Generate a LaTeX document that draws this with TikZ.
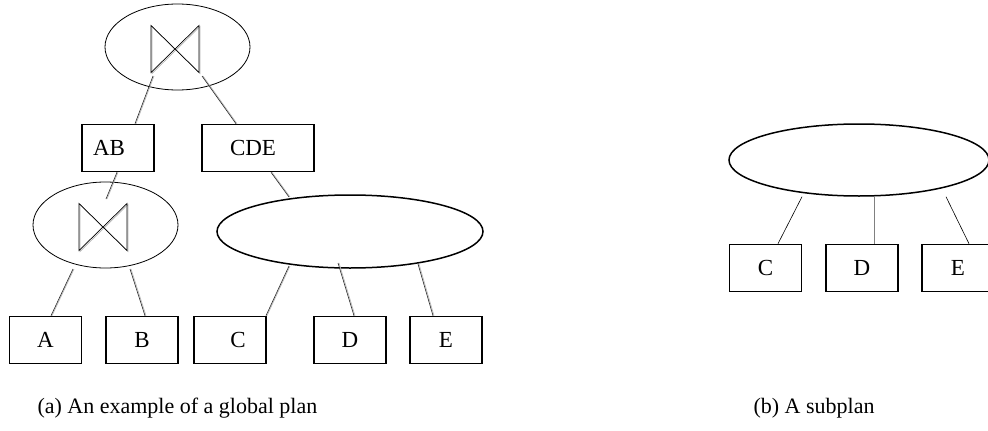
\documentclass[tikz,border=0pt]{standalone}
\usepackage{fontspec}
\setmainfont{Liberation Serif}
\usetikzlibrary{shapes.geometric}

\tikzset{
  rel/.style={draw, line width=1.6pt, minimum width=72pt, minimum height=47pt,
    inner sep=0pt, font=\fontsize{23}{25}\selectfont},
  joinop/.style={ellipse, draw, line width=0.8pt, minimum width=145pt,
    minimum height=86pt, inner sep=0pt},
  subop/.style={ellipse, draw, line width=1.5pt, inner sep=0pt},
  link/.style={draw=black!85, line width=0.6pt,
    preaction={draw=gray!55, line width=0.7pt, transform canvas={xshift=1pt}}},
  caption/.style={font=\fontsize{22}{24}\selectfont, anchor=west},
  joinmark/.pic={
    \draw[gray!60, line width=0.7pt, shift={(1,1)}] (-24,-23.5) -- (24,23.5) -- (24,-23.5) -- (-24,23.5) -- cycle;
    \draw[line width=0.7pt] (-24,-23.5) -- (24,23.5) -- (24,-23.5) -- (-24,23.5) -- cycle;
  }
}

\begin{document}
\begin{tikzpicture}[x=1pt, y=-1pt]
    \useasboundingbox (0,0) rectangle (988,431);

    % global plan: joins
    \node[joinop] (j1) at (177.5,47) {};
    \pic at ([shift={(-2.5,2)}]j1.center) {joinmark};
    \node[joinop] (j2) at (105.5,225) {};
    \pic at ([shift={(-2.5,2)}]j2.center) {joinmark};

    % intermediate results
    \node[rel] (AB) at (118,148) {AB\rule{18pt}{0pt}};
    \node[rel, minimum width=112pt] (CDE) at (258,148) {CDE\rule{10pt}{0pt}};

    % subplan inside the global plan
    \node[subop, minimum width=266pt, minimum height=73pt] (s1) at (350,231.5) {};

    % base relations
    \node[rel] (A) at (45.5,340) {A};
    \node[rel] (B) at (142,340) {B};
    \node[rel] (C) at (230,340) {\rule{16pt}{0pt}C};
    \node[rel] (D) at (350,340) {D};
    \node[rel] (E) at (446,340) {\raisebox{-2pt}{E}};

    % edges of the global plan
    \draw[link] ([shift={(-24.5,29)}]j1.center) -- ([xshift=17pt]AB.north);
    \draw[link] ([shift={(24.5,29)}]j1.center) -- ([xshift=-22pt]CDE.north);
    \draw[link] ([xshift=-1pt]AB.south) -- ([shift={(0.5,-26)}]j2.center);
    \draw[link] ([xshift=13pt]CDE.south) -- ([shift={(-61,-34.5)}]s1.center);
    \draw[link] ([shift={(-32.5,44)}]j2.center) -- ([xshift=5.5pt]A.north);
    \draw[link] ([shift={(24.5,44)}]j2.center) -- ([xshift=3pt]B.north);
    \draw[link] ([shift={(-61,34.5)}]s1.center) -- ([xshift=36pt]C.north);
    \draw[link] ([shift={(-12,31.5)}]s1.center) -- ([xshift=4pt]D.north);
    \draw[link] ([shift={(68,32.5)}]s1.center) -- ([xshift=-13pt]E.north);

    % the subplan on its own
    \node[subop, minimum width=260pt, minimum height=72pt] (s2) at (859,160) {};
    \node[rel] (C2) at (765.5,268) {C};
    \node[rel] (D2) at (862,268) {D};
    \node[rel] (E2) at (958,268) {E};
    \draw[line width=0.6pt] ([xshift=-57pt]s2.south) -- ([xshift=12.5pt]C2.north);
    \draw[gray, line width=1pt] ([xshift=15pt]s2.south) -- ([xshift=12pt]D2.north);
    \draw[line width=0.6pt] ([xshift=87pt]s2.south) -- ([xshift=11pt]E2.north);

    % captions
    \node[caption] (capa) at (34,408) {(a) An example of a global plan};
    \node[caption] (capb) at (750,408) {(b) A subplan};
\end{tikzpicture}
\end{document}
